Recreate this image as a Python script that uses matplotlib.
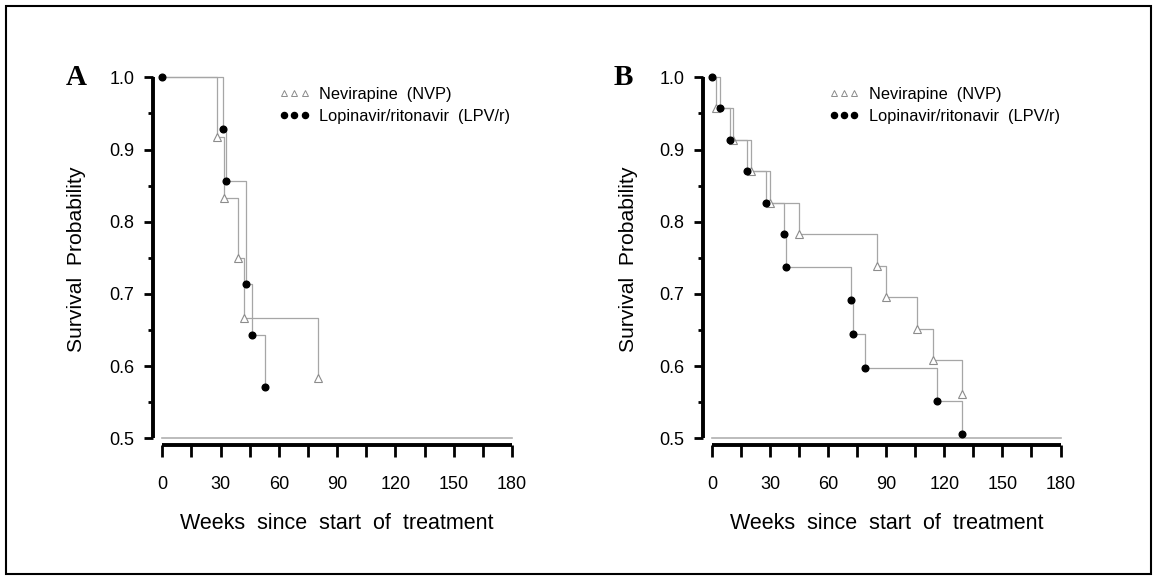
import matplotlib
matplotlib.use("Agg")
import matplotlib.pyplot as plt
from matplotlib.lines import Line2D
from matplotlib.patches import Rectangle
from matplotlib.ticker import MultipleLocator

plt.rcParams['font.family'] = ['Liberation Sans', 'DejaVu Sans']

# ---- data ----
A_nvp_weeks = [0, 28, 32, 39, 42, 80]
A_nvp_surv = [1.0, 0.917, 0.833, 0.750, 0.667, 0.583]
A_lpv_weeks = [0, 31, 33, 43, 46, 53]
A_lpv_surv = [1.0, 0.929, 0.857, 0.714, 0.643, 0.571]

B_nvp_weeks = [0, 2, 11, 20, 30, 45, 85, 90, 106, 114, 129]
B_nvp_surv = [1.0, 0.957, 0.913, 0.870, 0.826, 0.783, 0.739, 0.696, 0.652, 0.609, 0.561]
B_lpv_weeks = [0, 4, 9.5, 18, 28, 37, 38, 72, 73, 79, 116, 129]
B_lpv_surv = [1.0, 0.957, 0.913, 0.870, 0.826, 0.783, 0.737, 0.691, 0.644, 0.598, 0.552, 0.506]

x_ticks = [0, 30, 60, 90, 120, 150, 180]
y_ticks = [0.5, 0.6, 0.7, 0.8, 0.9, 1.0]
series_labels = ["Nevirapine  (NVP)", "Lopinavir/ritonavir  (LPV/r)"]
panel_labels = ["A", "B"]
xlabel = "Weeks  since  start  of  treatment"
ylabel = "Survival  Probability"

W, H = 1157, 580
fig = plt.figure(figsize=(W / 100, H / 100), dpi=100)

LINE_C = "#a6a6a6"
TRI_C = "#8c8c8c"

def px(x, y):
    return x / W, 1 - y / H

panels = [
    dict(left=162.3, right=512.0, nvp=(A_nvp_weeks, A_nvp_surv), lpv=(A_lpv_weeks, A_lpv_surv),
         lab=panel_labels[0], labx=76, ylabx=76),
    dict(left=712.0, right=1060.5, nvp=(B_nvp_weeks, B_nvp_surv), lpv=(B_lpv_weeks, B_lpv_surv),
         lab=panel_labels[1], labx=623, ylabx=629),
]
top, bottom = 77.3, 438.4

for p in panels:
    ax = fig.add_axes([p['left'] / W, 1 - bottom / H, (p['right'] - p['left']) / W, (bottom - top) / H])
    ax.set_xlim(0, 180)
    ax.set_ylim(0.5, 1.0)
    ax.patch.set_visible(False)
    # baseline at 0.5
    ax.plot([0, 180], [0.5, 0.5], color="#b0b0b0", lw=1.2, clip_on=False, zorder=1)
    t, s = p['nvp']
    ax.step(t, s, where='post', color=LINE_C, lw=0.9, clip_on=False, zorder=2)
    ax.plot(t[1:], s[1:], ls='none', marker='^', ms=5.5, mfc='white', mec=TRI_C, mew=0.8,
            clip_on=False, zorder=3)
    t, s = p['lpv']
    ax.step(t, s, where='post', color=LINE_C, lw=0.9, clip_on=False, zorder=2)
    ax.plot(t, s, ls='none', marker='o', ms=4.8, mfc='black', mec='black', clip_on=False, zorder=4)

    for side in ['top', 'right']:
        ax.spines[side].set_visible(False)
    ax.spines['left'].set_position(('outward', 6.5))
    ax.spines['bottom'].set_position(('outward', 5.0))
    ax.spines['left'].set_bounds(0.5, 1.0)
    ax.spines['bottom'].set_bounds(0, 180)
    for side in ['left', 'bottom']:
        ax.spines[side].set_linewidth(2.8)
        ax.spines[side].set_capstyle('butt')
    ax.set_xticks(x_ticks)
    ax.xaxis.set_minor_locator(MultipleLocator(15))
    ax.set_yticks(y_ticks)
    ax.set_yticklabels([f"{v:.1f}" for v in y_ticks])
    ax.yaxis.set_minor_locator(MultipleLocator(0.05))
    ax.tick_params(axis='x', which='both', direction='out', length=8.6, width=2.0, pad=13.5,
                   labelsize=13)
    ax.tick_params(axis='y', which='major', direction='out', length=6.5, width=2.0, pad=7,
                   labelsize=13)
    ax.tick_params(axis='y', which='minor', direction='out', length=3.6, width=2.0)

    cx = (p['left'] + p['right']) / 2
    fig.text(*px(cx, 523.5), xlabel, ha='center', va='center', fontsize=15.5)
    fig.text(*px(p['ylabx'], 259), ylabel, ha='center', va='center', rotation=90, fontsize=15.2)
    fig.text(*px(p['labx'], 78), p['lab'], ha='center', va='center', fontsize=21,
             fontweight='bold', family=['Liberation Serif', 'DejaVu Serif'])

    handles = [
        Line2D([], [], ls='none', marker='^', ms=4.2, mfc='white', mec=TRI_C, mew=0.7),
        Line2D([], [], ls='none', marker='o', ms=4.4, mfc='black', mec='black'),
    ]
    lx, ly = px(p['left'] + 117, 87)
    ax.legend(handles, series_labels, numpoints=3, frameon=False, fontsize=11.8,
              loc='upper left', bbox_to_anchor=(lx, ly), bbox_transform=fig.transFigure,
              borderpad=0, handlelength=1.85, handletextpad=0.6, labelspacing=0.42,
              borderaxespad=0)

# figure border
fig.patches.append(Rectangle((6 / W, 6 / H), (W - 12) / W, (H - 12) / H, transform=fig.transFigure,
                             fill=False, edgecolor='black', lw=1.5))

fig.savefig("out.png", dpi=100)
